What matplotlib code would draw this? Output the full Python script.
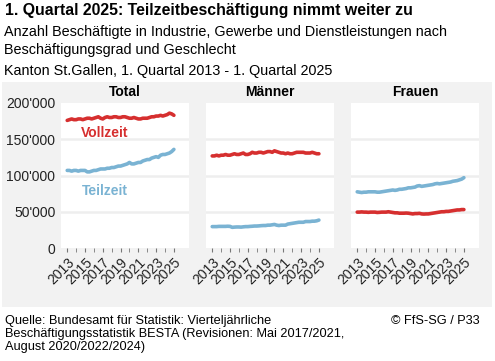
import matplotlib.pyplot as plt
from matplotlib.patches import Rectangle

plt.rcParams['font.family'] = ['Liberation Sans', 'DejaVu Sans']

# quarterly values, 1. Quartal 2013 - 1. Quartal 2025, in thousands
years = list(range(2013, 2026))

total_voll = [176, 177, 178, 177, 177, 178, 178, 177, 178, 179, 179, 178,
              179, 180, 181, 179, 178, 180, 181, 180, 180, 181, 181, 180,
              180, 181, 181, 180, 179, 179, 180, 179, 178, 178, 179, 179,
              179, 180, 181, 181, 182, 182, 183, 182, 183, 184, 186, 185,
              183]
total_teil = [107, 107, 106, 107, 107, 106, 107, 107, 107, 105, 105, 106,
              107, 107, 108, 109, 109, 109, 110, 110, 111, 111, 112, 113,
              113, 114, 115, 116, 118, 116, 116, 117, 118, 118, 120, 121,
              122, 122, 124, 125, 126, 125, 128, 129, 129, 130, 131, 133,
              136]
maenner_voll = [127, 127, 128, 127, 128, 128, 129, 128, 128, 129, 130, 129,
                129, 130, 131, 129, 129, 130, 132, 131, 131, 132, 132, 131,
                132, 133, 133, 132, 134, 133, 132, 131, 131, 130, 131, 130,
                130, 131, 132, 132, 132, 132, 131, 131, 131, 132, 131, 130,
                130]
maenner_teil = [29.5, 29.5, 29.5, 29.8, 29.8, 29.8, 29.8, 30.0, 29.8, 28.5,
                28.8, 29.0, 29.0, 28.8, 29.2, 29.5, 29.5, 29.8, 30.0, 30.3,
                30.3, 30.5, 30.8, 31.0, 31.0, 31.5, 31.5, 32.0, 32.5, 31.5,
                31.0, 31.5, 31.5, 31.5, 33.0, 33.5, 34.0, 34.5, 35.0, 35.5,
                35.5, 35.5, 36.5, 36.5, 36.5, 37.0, 37.0, 37.5, 38.5]
frauen_voll = [49.5, 49.5, 49.8, 49.5, 49.5, 49.2, 49.5, 49.5, 49.5, 49.0,
               49.2, 49.5, 49.5, 49.5, 50.0, 49.5, 49.0, 48.5, 48.5, 48.0,
               48.0, 48.0, 48.2, 48.0, 47.5, 47.0, 47.5, 47.5, 47.8, 47.0,
               46.8, 47.0, 47.0, 47.5, 48.0, 48.5, 49.0, 49.5, 50.0, 50.0,
               50.5, 50.5, 51.0, 51.5, 52.0, 52.5, 52.5, 53.0, 53.0]
frauen_teil = [77.5, 77.0, 76.5, 77.0, 77.0, 77.5, 77.5, 77.5, 77.5, 77.0,
               77.0, 77.5, 78.0, 78.5, 79.0, 79.5, 80.0, 79.5, 80.0, 81.0,
               81.0, 81.5, 82.0, 83.0, 83.0, 83.5, 84.0, 85.5, 86.0, 85.0,
               85.5, 86.0, 86.5, 87.0, 87.5, 88.5, 89.0, 88.5, 89.0, 89.5,
               90.0, 90.5, 91.0, 92.0, 92.5, 93.0, 94.0, 95.0, 97.0]

panels = ['Total', 'Männer', 'Frauen']
voll = [total_voll, maenner_voll, frauen_voll]
teil = [total_teil, maenner_teil, frauen_teil]

red = '#d62f2f'
blue = '#7ab3d3'

W, H = 495, 361
fig = plt.figure(figsize=(W / 100, H / 100), dpi=100)

def fx(px):
    return px / W

def fy(py):
    return 1 - py / H

# grey panel behind the small multiples
fig.patches.append(Rectangle((fx(2), fy(307)), fx(490), (307 - 82) / H,
                             transform=fig.transFigure, facecolor='#f2f2f2',
                             edgecolor='none', zorder=-5))

quarters = [y + q / 4 for y in years[:-1] for q in range(4)] + [years[-1]]

lefts = [61, 206, 351]
for i, name in enumerate(panels):
    ax = fig.add_axes([fx(lefts[i]), fy(248), 128 / W, 145 / H])
    ax.set_zorder(2)
    ax.set_facecolor('white')
    ax.plot(quarters, [v * 1000 for v in voll[i]], color=red, lw=2.6,
            solid_capstyle='round')
    ax.plot(quarters, [v * 1000 for v in teil[i]], color=blue, lw=2.6,
            solid_capstyle='round')
    ax.set_ylim(0, 200000)
    ax.set_xlim(2012.3, 2026.7)
    ax.set_yticks([0, 50000, 100000, 150000, 200000])
    for g in [50000, 100000, 150000]:
        ax.axhline(g, color='#eeeeee', lw=1.8, zorder=0)
    if i == 0:
        ax.set_yticklabels(['0', "50'000", "100'000", "150'000", "200'000"])
    else:
        ax.set_yticklabels([])
    ax.tick_params(axis='y', length=0, labelsize=10, pad=4, colors='#222222')
    ax.set_xticks(years[::2])
    ax.set_xticks(years[1::2], minor=True)
    ax.set_xticklabels([str(y) for y in years[::2]], rotation=45,
                       ha='right', rotation_mode='anchor')
    ax.tick_params(axis='x', which='both', length=3, labelsize=10, pad=2,
                   colors='#222222', color='#777777')
    for s in ax.spines.values():
        s.set_visible(False)
    ax.set_title(name, fontsize=10, fontweight='bold', pad=5)
    if i == 0:
        ax.text(2017.2, 158000, 'Vollzeit', color=red, fontsize=10,
                fontweight='bold', ha='center', va='center')
        ax.text(2017.2, 79000, 'Teilzeit', color=blue, fontsize=10,
                fontweight='bold', ha='center', va='center')

fig.text(fx(5), fy(11), '1. Quartal 2025: Teilzeitbeschäftigung nimmt weiter zu',
         fontsize=11.4, fontweight='bold', va='center', ha='left')
fig.text(fx(4), fy(32), 'Anzahl Beschäftigte in Industrie, Gewerbe und Dienstleistungen nach',
         fontsize=10.4, va='center', ha='left')
fig.text(fx(4), fy(50), 'Beschäftigungsgrad und Geschlecht',
         fontsize=10.4, va='center', ha='left')
fig.text(fx(4), fy(71), 'Kanton St.Gallen, 1. Quartal 2013 - 1. Quartal 2025',
         fontsize=10.4, va='center', ha='left')

fig.text(fx(5), fy(321), 'Quelle: Bundesamt für Statistik: Vierteljährliche',
         fontsize=9.2, va='center', ha='left')
fig.text(fx(5), fy(334), 'Beschäftigungsstatistik BESTA (Revisionen: Mai 2017/2021,',
         fontsize=9.2, va='center', ha='left')
fig.text(fx(5), fy(347), 'August 2020/2022/2024)',
         fontsize=9.2, va='center', ha='left')
fig.text(fx(480), fy(321), '© FfS-SG / P33',
         fontsize=9.2, va='center', ha='right')

fig.savefig('out.png', dpi=100, facecolor='white')
